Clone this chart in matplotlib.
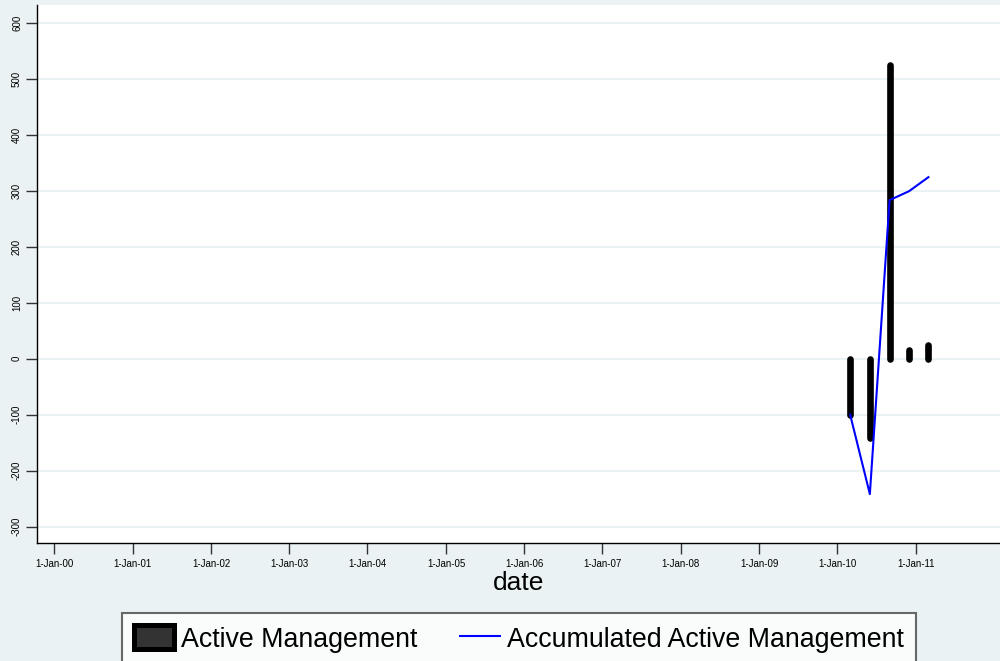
import numpy as np
import matplotlib
matplotlib.use("Agg")
import matplotlib.pyplot as plt
import matplotlib.dates as mdates
from matplotlib.patches import Patch
from matplotlib.lines import Line2D
from matplotlib.ticker import FuncFormatter, FixedLocator
import datetime as dt

plt.rcParams['font.family'] = ['Liberation Sans', 'DejaVu Sans']
plt.rcParams['axes.unicode_minus'] = False

# data (quarterly)
dates = [dt.date(2010, 3, 1), dt.date(2010, 6, 1), dt.date(2010, 9, 1),
         dt.date(2010, 12, 1), dt.date(2011, 3, 1)]
active = [-100, -142, 525, 16, 25]
accumulated = [-100, -242, 283, 299, 324]

tick_dates = [dt.date(y, 1, 1) for y in range(2000, 2012)]
y_ticks = [-300, -200, -100, 0, 100, 200, 300, 400, 500, 600]

bg = '#eaf2f3'
fig = plt.figure(figsize=(10, 6.61), dpi=100, facecolor=bg)
ax = fig.add_axes([0.0373, 0.178, 0.9627, 0.814])
ax.set_facecolor('white')

x = mdates.date2num(dates)
bars = ax.vlines(x, 0, active, colors='black', linewidth=4.8)
bars.set_capstyle('round')
ax.plot(x, accumulated, color='#0000ff', linewidth=1.5)

ax.set_ylim(-330, 631)
ax.set_xlim(mdates.date2num(dt.date(1999, 10, 14)), mdates.date2num(dt.date(2012, 1, 29)))

def fmt_date(v, p):
    d = mdates.num2date(v)
    return "{}-{}-{}".format(d.day, d.strftime('%b'), d.strftime('%y'))

ax.yaxis.set_major_locator(FixedLocator(y_ticks))
ax.xaxis.set_major_locator(FixedLocator(mdates.date2num(tick_dates)))
ax.xaxis.set_major_formatter(FuncFormatter(fmt_date))
ax.grid(axis='y', color=bg, linewidth=1.5)
ax.set_axisbelow(True)

for s in ['top', 'right']:
    ax.spines[s].set_visible(False)
for s in ['left', 'bottom']:
    ax.spines[s].set_linewidth(1.0)
ax.tick_params(axis='both', direction='out', length=8, width=1, labelsize=7, color='#333333', pad=3)
for lab in ax.get_yticklabels():
    lab.set_rotation(90)
    lab.set_va('center')
ax.set_xlabel('date', fontsize=19, labelpad=2)

handles = [Patch(facecolor='#333333', edgecolor='black', linewidth=3.6, joinstyle='round'),
           Line2D([], [], color='#0000ff', linewidth=1.5)]
leg = fig.legend(handles, ['Active Management', 'Accumulated Active Management'],
                 loc='upper center', bbox_to_anchor=(0.519, 0.0722), ncol=2,
                 fontsize=19.3, frameon=True, fancybox=False, edgecolor='#444444',
                 handlelength=1.49, handleheight=1.0, handletextpad=0.27,
                 columnspacing=1.57, borderpad=0.45, borderaxespad=0)
leg.get_frame().set_linewidth(1.5)
leg.get_frame().set_facecolor('white')

fig.savefig('out.png', dpi=100, facecolor=bg)
